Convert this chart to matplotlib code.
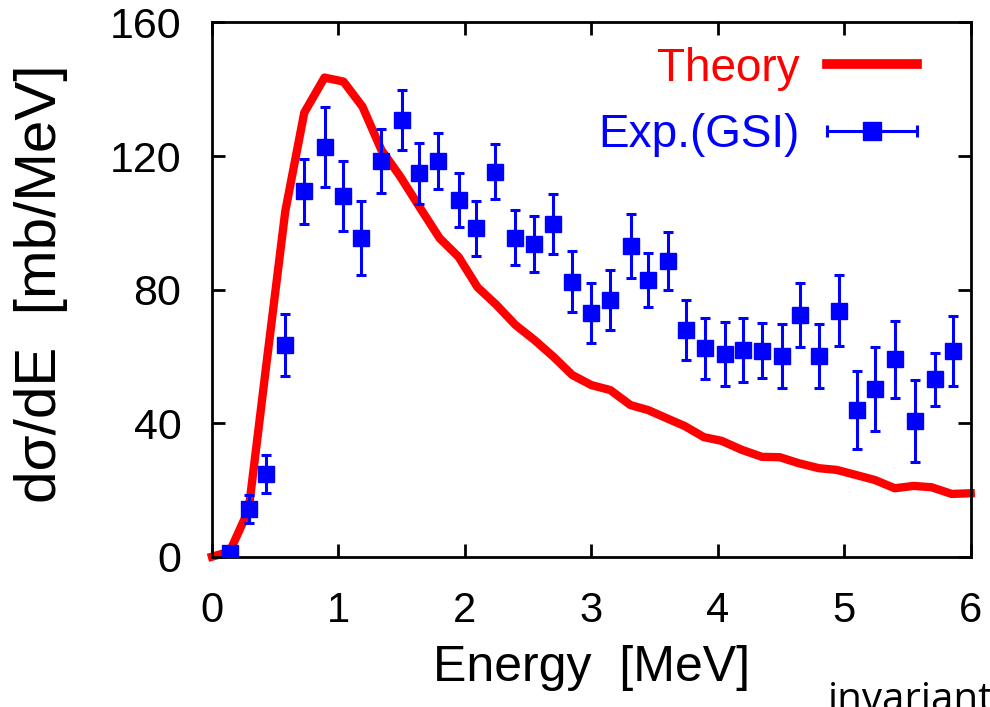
"""
Differential cross section vs energy: theory curve against GSI data.
"""
import matplotlib
matplotlib.use("Agg")
import matplotlib.pyplot as plt
from matplotlib.container import ErrorbarContainer
from matplotlib.legend_handler import HandlerBase
from matplotlib.lines import Line2D

plt.rcParams["font.family"] = ["Liberation Sans", "DejaVu Sans"]

THEORY_COLOR = "#ff0000"
EXP_COLOR = "#0000ff"

# theory curve (MeV, mb/MeV)
energy_th = [0.0, 0.14, 0.29, 0.43, 0.58, 0.73, 0.89, 1.04, 1.19, 1.34, 1.49, 1.64,
             1.80, 1.95, 2.10, 2.25, 2.40, 2.55, 2.70, 2.85, 3.00, 3.15, 3.31, 3.45,
             3.60, 3.74, 3.89, 4.03, 4.19, 4.35, 4.49, 4.64, 4.80, 4.94, 5.09, 5.24,
             5.40, 5.55, 5.69, 5.85, 6.00]
sigma_th = [0.0, 1.5, 14.0, 57.5, 103.5, 133.0, 143.5, 142.3, 134.8, 121.8, 113.8, 104.8,
            95.4, 89.8, 80.7, 75.4, 69.4, 64.9, 59.9, 54.4, 51.4, 49.9, 45.4, 43.9,
            41.4, 39.1, 35.8, 34.7, 32.0, 29.9, 29.8, 28.0, 26.5, 26.0, 24.5, 23.0,
            20.5, 21.2, 20.8, 18.8, 19.0]

# Exp. (GSI)
energy_exp = [0.14, 0.29, 0.43, 0.58, 0.73, 0.89, 1.04, 1.18, 1.34, 1.50, 1.64, 1.79,
              1.95, 2.09, 2.24, 2.40, 2.55, 2.70, 2.85, 3.00, 3.15, 3.31, 3.45, 3.61,
              3.75, 3.90, 4.06, 4.20, 4.35, 4.51, 4.65, 4.80, 4.96, 5.10, 5.24, 5.40,
              5.56, 5.72, 5.86]
sigma_exp = [1.0, 14.2, 24.8, 63.4, 109.4, 122.8, 108.0, 95.5, 118.5, 130.8, 114.8, 118.5,
             106.8, 98.3, 115.3, 95.5, 93.6, 99.6, 82.4, 72.9, 76.9, 93.1, 82.9, 88.6,
             67.9, 62.4, 60.7, 61.9, 61.7, 60.1, 72.4, 60.1, 73.7, 43.9, 50.2, 59.1,
             40.6, 53.1, 61.6]
err_exp = [1.0, 4.2, 5.6, 9.3, 9.7, 12.0, 10.6, 11.0, 9.7, 8.9, 9.2, 8.3,
           8.2, 8.3, 8.2, 8.2, 8.3, 9.0, 9.2, 9.0, 9.1, 9.5, 8.2, 8.7,
           9.0, 9.2, 9.7, 9.7, 8.2, 9.6, 9.6, 9.6, 10.7, 11.6, 12.7, 11.6,
           12.2, 7.9, 10.4]

x_ticks = [0, 1, 2, 3, 4, 5, 6]
y_ticks = [0, 40, 80, 120, 160]


class HandlerGnuErrorbar(HandlerBase):
    """ gnuplot style key sample: horizontal bar with end caps and a square in the middle """
    def create_artists(self, legend, orig_handle, xdescent, ydescent, width, height, fontsize, trans):
        y = height / 2 - ydescent
        x0, x1 = -xdescent, width - xdescent
        bar = Line2D([x0, x1], [y, y], color=EXP_COLOR, lw=2.2)
        caps = Line2D([x0, x1], [y, y], ls="none", marker="|", ms=9, mew=2.2, color=EXP_COLOR)
        box = Line2D([(x0 + x1) / 2], [y], ls="none", marker="s", ms=13, color=EXP_COLOR)
        for a in (bar, caps, box):
            a.set_transform(trans)
        return [bar, caps, box]


fig = plt.figure(figsize=(9.9, 7.07), dpi=100)
ax = fig.add_axes([0.2141, 0.2126, 0.7664, 0.7556])

theory, = ax.plot(energy_th, sigma_th, color=THEORY_COLOR, lw=6, label="Theory", clip_on=False, zorder=2)
exp = ax.errorbar(energy_exp, sigma_exp, yerr=err_exp, fmt="s", color=EXP_COLOR, ms=12,
                  elinewidth=2.2, capsize=3.8, capthick=2.2, label="Exp.(GSI)", zorder=3)

ax.set_xlim(0, 6)
ax.set_ylim(0, 160)
ax.set_xticks(x_ticks)
ax.set_yticks(y_ticks)
ax.set_xticklabels([str(t) for t in x_ticks], fontsize=30)
ax.set_yticklabels([str(t) for t in y_ticks], fontsize=31)
ax.tick_params(axis="both", direction="in", top=True, right=True, length=9.5, width=2)
ax.tick_params(axis="x", pad=25)
ax.tick_params(axis="y", pad=22)
for s in ax.spines.values():
    s.set_linewidth(2)

ax.set_xlabel("Energy  [MeV]", fontsize=36)
ax.set_ylabel("dσ/dE  [mb/MeV]", fontsize=42)
ax.xaxis.set_label_coords(0.5, -0.165)
ax.yaxis.set_label_coords(-0.19, 0.51)

leg = ax.legend([theory, exp], ["Theory", "Exp.(GSI)"], loc="upper right",
                bbox_to_anchor=(0.929, 0.955), frameon=False, markerfirst=False, fontsize=33,
                handlelength=1.95, handletextpad=0.6, labelspacing=0.5, borderpad=0,
                borderaxespad=0, labelcolor=[THEORY_COLOR, EXP_COLOR],
                handler_map={ErrorbarContainer: HandlerGnuErrorbar()})
leg.legend_handles[0].set_linewidth(7)

# text from the page the figure was cut from (cut off there too)
fig.text(0.836, -0.006, "invariant", fontsize=29, family=["Open Sans", "DejaVu Sans"], va="baseline")

fig.savefig("out.png", dpi=100)
